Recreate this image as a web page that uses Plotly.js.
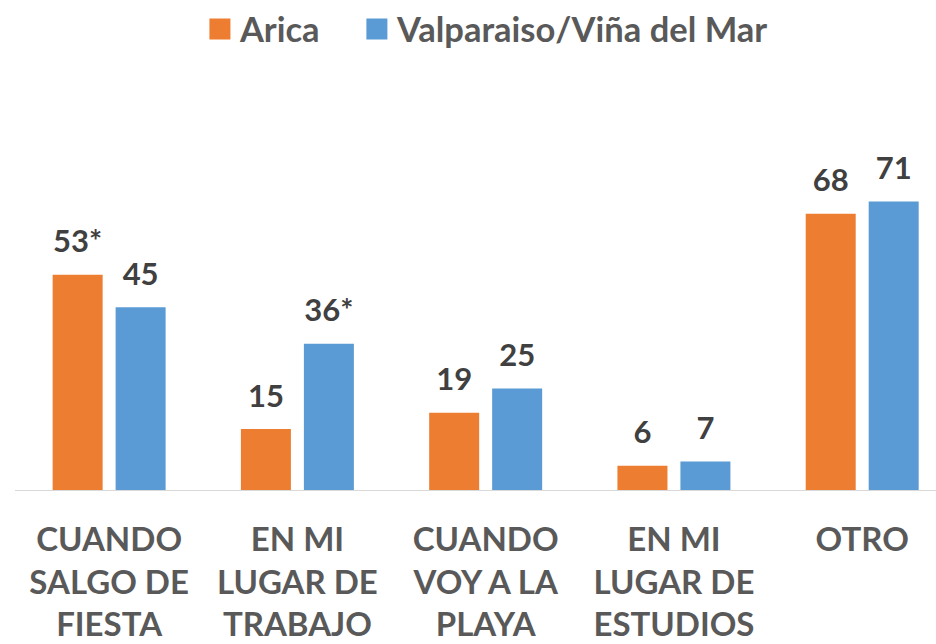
<!DOCTYPE html>
<html>
<head>
<meta charset="utf-8">
<script src="https://cdn.plot.ly/plotly-3.0.1.min.js"></script>
<style>html,body{margin:0;padding:0;background:#fff;}#chart{width:936px;height:644px;}</style>
</head>
<body>
<div id="chart"></div>
<script>
const categories = ["CUANDO<br>SALGO DE<br>FIESTA", "EN MI<br>LUGAR DE<br>TRABAJO", "CUANDO<br>VOY A LA<br>PLAYA", "EN MI<br>LUGAR DE<br>ESTUDIOS", "OTRO"];
const seriesNames = ["Arica", "Valparaiso/Viña del Mar"];
const aricaValues = [53, 15, 19, 6, 68];
const valpoValues = [45, 36, 25, 7, 71];
const aricaLabels = ["53*", "15", "19", "6", "68"];
const valpoLabels = ["45", "36*", "25", "7", "71"];
const colors = ["#ED7D31", "#5B9BD5"];

const FONT = "Lato, 'Open Sans', sans-serif";

function barTrace(name, vals, color, grp) {
  return {type: "bar", name: name, x: categories, y: vals, offsetgroup: grp,
    marker: {color: color}, hoverinfo: "skip", showlegend: false};
}
function labelTrace(vals, labels, grp) {
  return {type: "scatter", mode: "markers+text", x: categories, y: vals, text: labels,
    offsetgroup: grp, showlegend: false, hoverinfo: "skip",
    textposition: "top center", cliponaxis: false,
    marker: {size: 22, opacity: 0},
    textfont: {family: FONT, size: 31, color: "#404040", weight: "bold"}};
}
function legendTrace(name, color, grp, legendId) {
  return {type: "scatter", mode: "markers", name: name, x: [null], y: [null], offsetgroup: grp,
    showlegend: true, legend: legendId, hoverinfo: "skip",
    marker: {symbol: "square", size: 16, color: color, line: {color: color, width: 5}}};
}

const data = [
  barTrace(seriesNames[0], aricaValues, colors[0], "a"),
  barTrace(seriesNames[1], valpoValues, colors[1], "b"),
  labelTrace(aricaValues, aricaLabels, "a"),
  labelTrace(valpoValues, valpoLabels, "b"),
  legendTrace(seriesNames[0], colors[0], "a", "legend"),
  legendTrace(seriesNames[1], colors[1], "b", "legend2")
];

const legendFont = {family: FONT, size: 34.5, color: "#595959", weight: "bold"};

const layout = {
  width: 936, height: 644,
  margin: {l: 15, r: 0, t: 165, b: 154},
  paper_bgcolor: "#fff", plot_bgcolor: "#fff",
  barmode: "group", bargap: 0.331, bargroupgap: 0.206,
  scattermode: "group", scattergap: 0.331,
  font: {family: FONT, color: "#595959"},
  showlegend: true,
  legend: {orientation: "h", xref: "container", yref: "container", x: 0.2136, xanchor: "left", y: 1, yanchor: "top",
    font: legendFont},
  legend2: {orientation: "h", xref: "container", yref: "container", x: 0.3813, xanchor: "left", y: 1, yanchor: "top",
    font: legendFont},
  xaxis: {type: "category", range: [-0.5, 4.392], showline: true, linecolor: "#d9d9d9", linewidth: 1,
    ticks: "", showgrid: false, zeroline: false, ticklabelstandoff: 20,
    tickfont: {family: FONT, size: 33, color: "#595959", weight: "bold"}},
  yaxis: {range: [0, 80], visible: false, showgrid: false, zeroline: false}
};

Plotly.newPlot("chart", data, layout, {displayModeBar: false, staticPlot: true});
</script>
</body>
</html>
